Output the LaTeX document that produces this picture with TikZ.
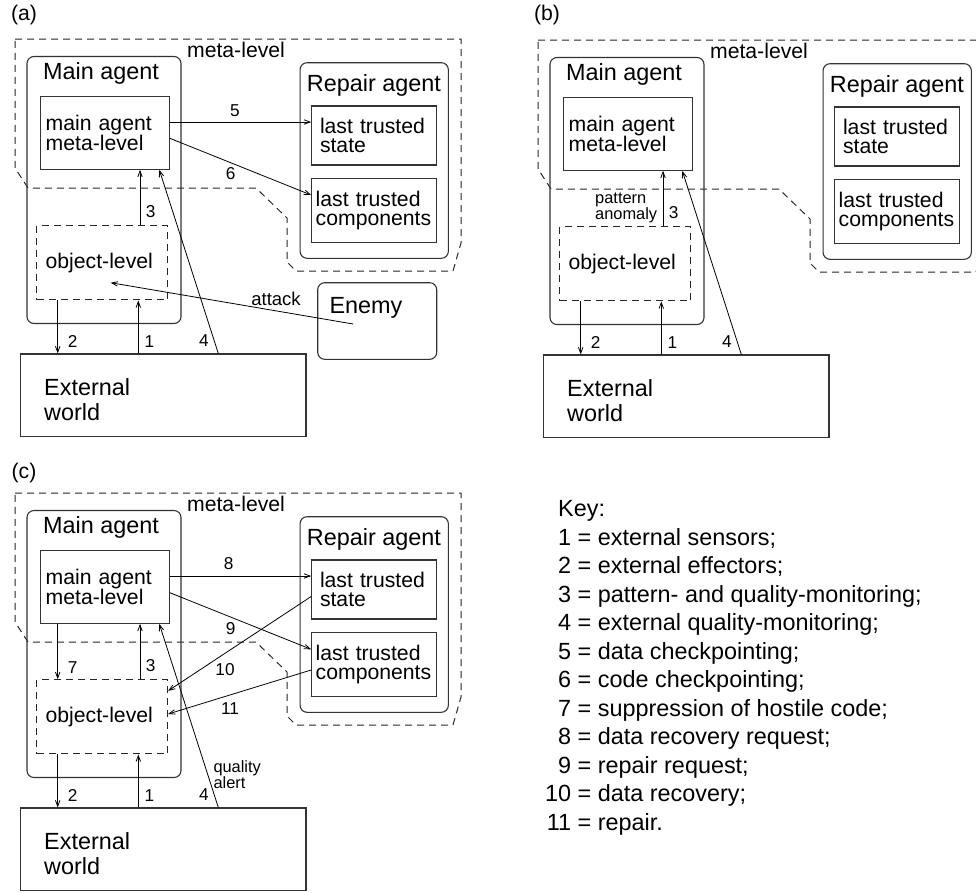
\documentclass[tikz,border=0pt]{standalone}
\usepackage{fontspec}
\setmainfont{Liberation Sans}
\usetikzlibrary{arrows.meta,positioning,calc}

\begin{document}
\begin{tikzpicture}[x=1pt,y=-1pt,
  bigtxt/.style={font=\fontsize{23.4}{25}\selectfont,inner sep=0pt,align=left},
  keytxt/.style={font=\fontsize{23.4}{28.5}\selectfont,inner sep=0pt},
  midtxt/.style={font=\fontsize{21.2}{19.5}\selectfont,inner sep=0pt},
  numtxt/.style={font=\fontsize{17.2}{18}\selectfont,inner sep=0pt},
  smalltxt/.style={font=\fontsize{16.4}{16}\selectfont,inner sep=0pt,align=left},
  rbox/.style={draw=black!80,line width=1.1pt,rounded corners=7pt},
  sbox/.style={draw=black!80,line width=1.1pt,font=\fontsize{21.2}{19.5}\selectfont,align=left,inner ysep=0pt},
  dbox/.style={draw=black!85,line width=1pt,dash pattern=on 7pt off 5pt},
  conn/.style={-{Straight Barb[length=6pt,width=4.5pt]},line width=0.8pt}]
  \useasboundingbox (0,0) rectangle (976,892);
  \clip (0,0) rectangle (976,892);
  \foreach \p/\dx/\dy in {a/0/0,b/523/1,c/0/454} {
    \begin{scope}[shift={(\dx,\dy)}]
      \draw[dbox] (15,39) -- (461,39) -- (461,243) -- (453,271) -- (296,271) -- (287,262)
        -- (287,218) -- (256,188) -- (28,188) -- (15,168) -- cycle;
      \node[midtxt] (ml\p) at (236,50) {meta-level};
      \node[rbox,minimum width=154pt,minimum height=267pt] (M\p) at (104,190) {};
      \node[bigtxt,anchor=west] (Mt\p) at (43,73) {Main agent};
      \node[sbox,minimum width=129pt,minimum height=72.6pt,text width=118.2pt,inner xsep=5.4pt] (Mm\p) at (104.8,133) {main agent\\meta-level};
      \node[sbox,dbox,minimum width=130.7pt,minimum height=74.3pt,text width=113.3pt,inner xsep=8.7pt] (O\p) at (102.3,262.8) {object-level};
      \node[rbox,minimum width=148.3pt,minimum height=195.6pt] (R\p) at (374.2,160.5) {};
      \node[bigtxt,anchor=west] (Rt\p) at (306.7,85) {Repair agent};
      \node[sbox,minimum width=125pt,minimum height=59pt,text width=108.4pt,inner xsep=8.3pt] (S\p) at (374.2,135.5) {last trusted\\state};
      \node[sbox,minimum width=125pt,minimum height=64pt,text width=117pt,inner xsep=4pt] (C\p) at (374.2,210.3) {last trusted\\components};
      \node[sbox,minimum width=285.3pt,minimum height=82.7pt] (E\p) at (163.3,395.3) {};
      \node[bigtxt,anchor=west] (Et\p) at (44,400) {External\\world};
      \draw[conn] ([xshift=-25pt]E\p.north) -- ([xshift=36pt]O\p.south);
      \draw[conn] ([xshift=-44.6pt]O\p.south) -- ([xshift=-105.6pt]E\p.north);
      \draw[conn] ([xshift=37.7pt]O\p.north) -- ([xshift=35.2pt]Mm\p.south);
      \draw[conn] ([xshift=55pt]E\p.north) -- ([xshift=54.5pt]Mm\p.south);
      \node[numtxt] (l1\p) at (149.3,341.5) {1};
      \node[numtxt] (l2\p) at (72.7,341.5) {2};
      \node[numtxt] (l3\p) at (150.7,212) {3};
      \node[numtxt] (l4\p) at (204,341) {4};
    \end{scope}
  }
  \node[midtxt] (taga) at (24,15) {(a)};
  \node[midtxt] (tagb) at (547,15) {(b)};
  \node[midtxt] (tagc) at (24,473) {(c)};

  % (a)
  \node[rbox,minimum width=119pt,minimum height=76.6pt] (En) at (377.2,321) {};
  \node[bigtxt,anchor=west] (Ent) at (329.3,308) {Enemy};
  \draw[conn] ([yshift=11pt]Mma.east) -- ([yshift=13.5pt]Sa.west);
  \draw[conn] ([yshift=-5.3pt]Mma.east) -- ([yshift=15.3pt]Ca.west);
  \draw[conn] ([xshift=-24pt,yshift=-3pt]En.center) -- ([xshift=8.4pt,yshift=-19.9pt]Oa.center);
  \node[numtxt] (l5a) at (235,111) {5};
  \node[numtxt] (l6a) at (230.7,174) {6};
  \node[font=\fontsize{18.5}{19}\selectfont,inner sep=0pt] (att) at (276,299.3) {attack};

  % (b)
  \node[smalltxt,anchor=west] (pat) at (595,208) {pattern\\anomaly};

  % (c)
  \draw[conn] ([yshift=11pt]Mmc.east) -- ([yshift=13.5pt]Sc.west);
  \draw[conn] ([yshift=-5.7pt]Mmc.east) -- ([yshift=15pt]Cc.west);
  \draw[conn] ([xshift=-47.1pt]Mmc.south) -- ([xshift=-44.6pt]Oc.north);
  \draw[conn] ([yshift=-7pt]Sc.west) -- ([yshift=26pt]Oc.east);
  \draw[conn] ([yshift=-5.7pt]Cc.west) -- ([yshift=2.8pt]Oc.east);
  \node[numtxt] (l7c) at (72.7,667.7) {7};
  \node[numtxt] (l8c) at (228.7,563.3) {8};
  \node[numtxt] (l9c) at (230.7,629) {9};
  \node[numtxt] (l10c) at (225,670) {10};
  \node[numtxt] (l11c) at (230,708.3) {11};
  \node[smalltxt,anchor=west] (qal) at (213.3,774.5) {quality\\alert};

  \node[keytxt,anchor=base west] (key) at (545,516.7) {\begin{tabular}[t]{@{}r@{\ =\ }l@{}}
    \multicolumn{2}{@{}l}{\phantom{1}Key:}\\
    1&external sensors;\\
    2&external effectors;\\
    3&pattern- and quality-monitoring;\\
    4&external quality-monitoring;\\
    5&data checkpointing;\\
    6&code checkpointing;\\
    7&suppression of hostile code;\\
    8&data recovery request;\\
    9&repair request;\\
    10&data recovery;\\
    11&repair.
  \end{tabular}};
\end{tikzpicture}
\end{document}
